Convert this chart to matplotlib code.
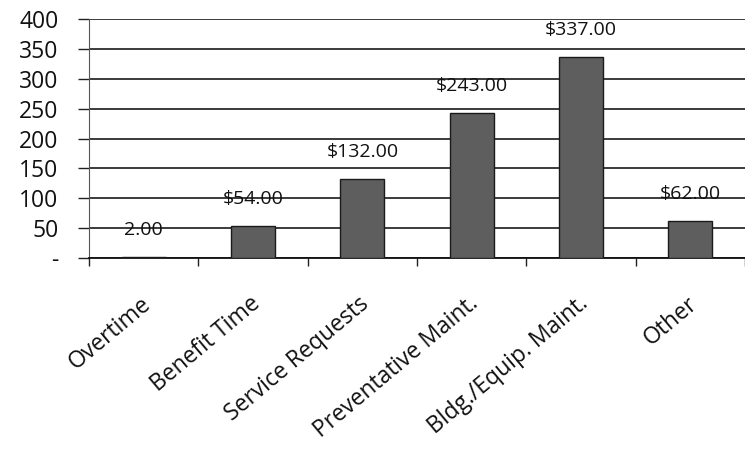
import matplotlib
matplotlib.use("Agg")
import matplotlib.pyplot as plt
import matplotlib.transforms as mtransforms

categories = ["Overtime", "Benefit Time", "Service Requests", "Preventative Maint.",
              "Bldg./Equip. Maint.", "Other"]
values = [2, 54, 132, 243, 337, 62]
value_labels = ["2.00", "$54.00", "$132.00", "$243.00", "$337.00", "$62.00"]
y_ticks = [0, 50, 100, 150, 200, 250, 300, 350, 400]
y_tick_labels = ["-", "50", "100", "150", "200", "250", "300", "350", "400"]

plt.rcParams['font.family'] = ['Open Sans', 'DejaVu Sans']

fig = plt.figure(figsize=(7.45, 4.55), dpi=100)
ax = fig.add_axes([89/745, 1 - 258/455, 1 - 89/745, (258 - 19)/455])

x = list(range(len(categories)))
ax.bar(x, values, width=0.4, color='#5e5e5e', edgecolor='#1a1a1a', linewidth=1.0, zorder=3)

ax.set_xlim(-0.5, len(categories) - 0.5)
ax.set_ylim(0, 400)

ax.set_yticks(y_ticks)
ax.set_yticklabels(y_tick_labels, fontsize=16.5, color='#111111')
ax.tick_params(axis='y', length=8, width=1.0, color='#222222', pad=14)
ax.yaxis.grid(True, color='#1a1a1a', linewidth=1.2, zorder=0)
ax.set_axisbelow(True)

ax.set_xticks(x)
ax.set_xticklabels(categories, fontsize=16.5, rotation=40, ha='right', va='center',
                   rotation_mode='anchor', color='#111111')
ax.tick_params(axis='x', length=0, pad=31)
offset = mtransforms.ScaledTranslation(4/100, 0, fig.dpi_scale_trans)
for lab in ax.get_xticklabels():
    lab.set_transform(lab.get_transform() + offset)
ax.set_xticks([i - 0.5 for i in range(len(categories) + 1)], minor=True)
ax.tick_params(axis='x', which='minor', length=6, width=1.0, color='#222222')

for s in ['top', 'right']:
    ax.spines[s].set_visible(False)
ax.spines['left'].set_color('#555555')
ax.spines['bottom'].set_color('#111111')
ax.spines['bottom'].set_linewidth(1.3)

for xi, v, lab in zip(x, values, value_labels):
    ax.annotate(lab, (xi, v), xytext=(0, 13), textcoords='offset points',
                ha='center', va='bottom', fontsize=14, color='#111111', zorder=4)

fig.savefig("out.png", dpi=100)
